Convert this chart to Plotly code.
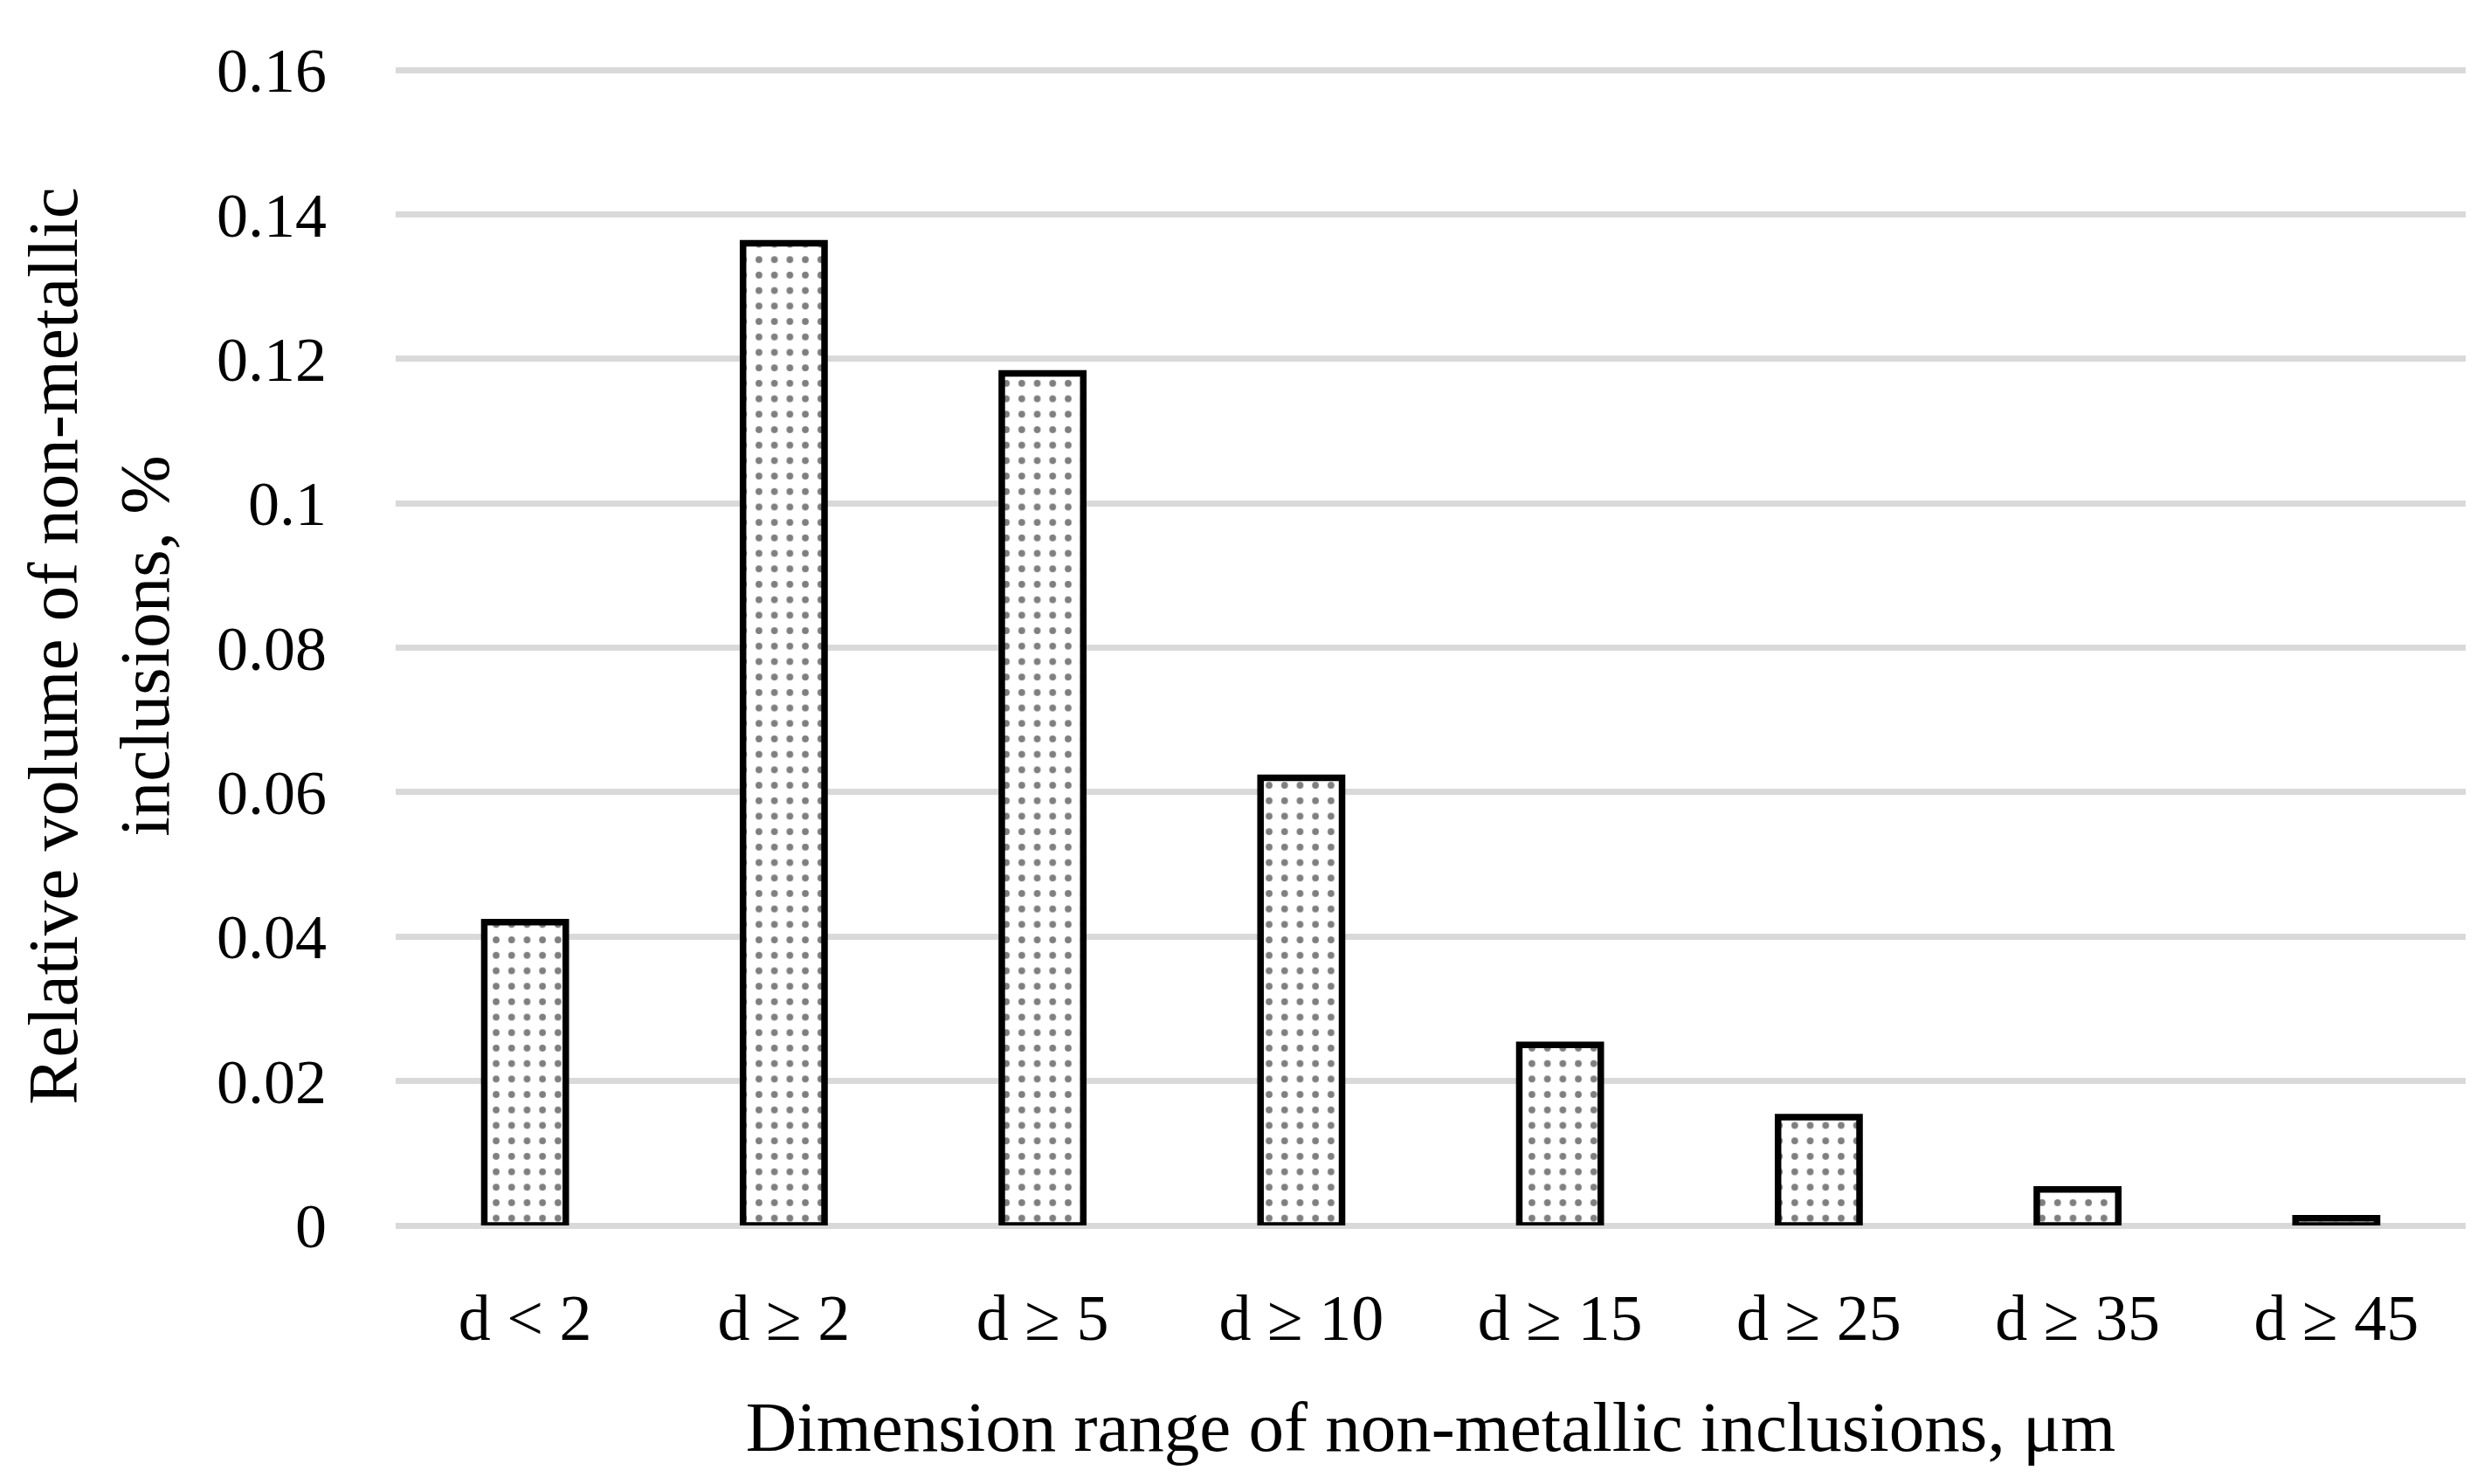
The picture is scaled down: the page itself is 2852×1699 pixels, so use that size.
import plotly.graph_objects as go

categories = ["d < 2", "d ≥ 2", "d ≥ 5", "d ≥ 10", "d ≥ 15", "d ≥ 25", "d ≥ 35", "d ≥ 45"]
values = [0.042, 0.136, 0.118, 0.062, 0.025, 0.015, 0.005, 0.001]
y_ticks = [0, 0.02, 0.04, 0.06, 0.08, 0.1, 0.12, 0.14, 0.16]
y_tick_labels = ["0", "0.02", "0.04", "0.06", "0.08", "0.1", "0.12", "0.14", "0.16"]

FONT = "Palatino Linotype, Book Antiqua, Palatino, Liberation Serif, serif"

fig = go.Figure(
    go.Bar(
        x=categories,
        y=values,
        marker=dict(
            color="white",
            line=dict(color="black", width=7.5),
            pattern=dict(shape=".", fgcolor="black", bgcolor="white", size=17.7, solidity=0.15),
        ),
    )
)

fig.update_layout(
    width=2852,
    height=1699,
    margin=dict(l=453, r=29, t=76, b=296, autoexpand=False),
    paper_bgcolor="white",
    plot_bgcolor="white",
    bargap=0.685,
    showlegend=False,
    font=dict(family=FONT, size=72, color="black"),
)

fig.update_xaxes(
    showgrid=False,
    showline=False,
    ticks="",
    ticklabelstandoff=56,
    tickfont=dict(family=FONT, size=74, color="black"),
    title=dict(text="Dimension range of non-metallic inclusions, μm",
               font=dict(family=FONT, size=81, color="black"), standoff=55),
    automargin=False,
)

fig.update_yaxes(
    range=[0, 0.1605],
    tickvals=y_ticks,
    ticktext=y_tick_labels,
    showgrid=True,
    gridcolor="#d9d9d9",
    gridwidth=6.5,
    zeroline=True,
    zerolinecolor="#d9d9d9",
    zerolinewidth=6.5,
    showline=False,
    ticks="",
    ticklabelstandoff=78,
    tickfont=dict(family=FONT, size=72, color="black"),
    title=dict(text="Relative volume of non-metallic<br>inclusions, %",
               font=dict(family=FONT, size=81, color="black"), standoff=27),
    automargin=False,
)

fig.write_html(
    "out.html",
    config={"displayModeBar": False},
    post_script="document.body.style.margin='0';",
)
